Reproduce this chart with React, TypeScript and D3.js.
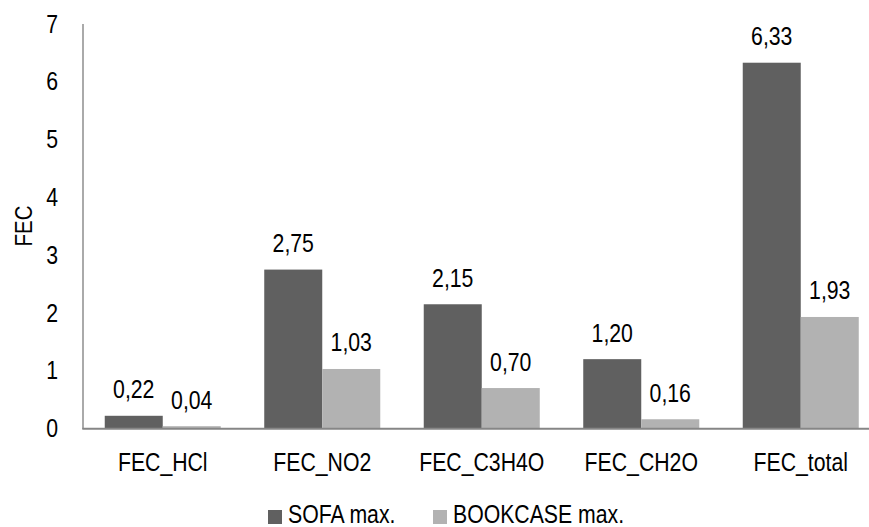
import React from "react";
import * as d3 from "d3";

const categories = ["FEC_HCl", "FEC_NO2", "FEC_C3H4O", "FEC_CH2O", "FEC_total"];
const sofaValues = [0.22, 2.75, 2.15, 1.2, 6.33];
const bookcaseValues = [0.04, 1.03, 0.7, 0.16, 1.93];
const seriesNames = ["SOFA max.", "BOOKCASE max."];
const yTicks = [0, 1, 2, 3, 4, 5, 6, 7];

const W = 869;
const H = 527;
const FONT = "'Liberation Sans', Arial, sans-serif";
const COLORS = ["#606060", "#b2b2b2"];
const AXIS = "#868686";
const SX = 0.85;

function T(props: { x: number; y: number; anchor?: string; size?: number; baseline?: string; rotate?: number; children: React.ReactNode }) {
  const { x, y, anchor = "start", size = 25, baseline, rotate = 0, children } = props;
  return (
    <text
      transform={`translate(${x},${y}) rotate(${rotate}) scale(${SX},1)`}
      textAnchor={anchor}
      dominantBaseline={baseline}
      fontSize={size}
      fill="#000"
    >
      {children}
    </text>
  );
}

export default function App() {
  const x0 = d3.scaleBand<string>().domain(categories).range([83, 880.5]).paddingInner(0.2727).paddingOuter(0.13635);
  const x1 = d3.scaleBand<string>().domain(seriesNames).range([0, x0.bandwidth()]);
  const y = d3.scaleLinear().domain([0, 7]).range([428.5, 24]);
  const fmt = (v: number) => v.toFixed(2).replace(".", ",");
  const series = [sofaValues, bookcaseValues];

  return (
    <svg width={W} height={H} style={{ position: "absolute", left: 0, top: 0, background: "#fff" }} fontFamily={FONT}>
      <rect x={0} y={0} width={W} height={H} fill="#fff" />
      {yTicks.map((t) => (
        <T key={t} x={58} y={y(t)} anchor="end" baseline="central">
          {t}
        </T>
      ))}
      <T x={23.5} y={226} anchor="middle" baseline="central" rotate={-90} size={24}>
        FEC
      </T>
      {categories.map((c, i) => (
        <g key={c} transform={`translate(${x0(c)},0)`}>
          {series.map((vals, s) => {
            const bx = x1(seriesNames[s])!;
            const bw = x1.bandwidth();
            const v = vals[i];
            return (
              <g key={s}>
                <rect x={bx} y={y(v)} width={bw} height={y(0) - y(v)} fill={COLORS[s]} />
                <T x={bx + bw / 2} y={y(v) - 17.5} anchor="middle">
                  {fmt(v)}
                </T>
              </g>
            );
          })}
          <T x={x0.bandwidth() / 2} y={470.5} anchor="middle">
            {c}
          </T>
        </g>
      ))}
      <line x1={83} x2={83} y1={24} y2={429} stroke={AXIS} strokeWidth={1.4} />
      <line x1={82.3} x2={W} y1={428.8} y2={428.8} stroke={AXIS} strokeWidth={2} />
      <rect x={268} y={510} width={14} height={14} fill={COLORS[0]} />
      <T x={288} y={523}>{seriesNames[0]}</T>
      <rect x={433} y={510} width={14} height={14} fill={COLORS[1]} />
      <T x={453} y={523}>{seriesNames[1]}</T>
    </svg>
  );
}
